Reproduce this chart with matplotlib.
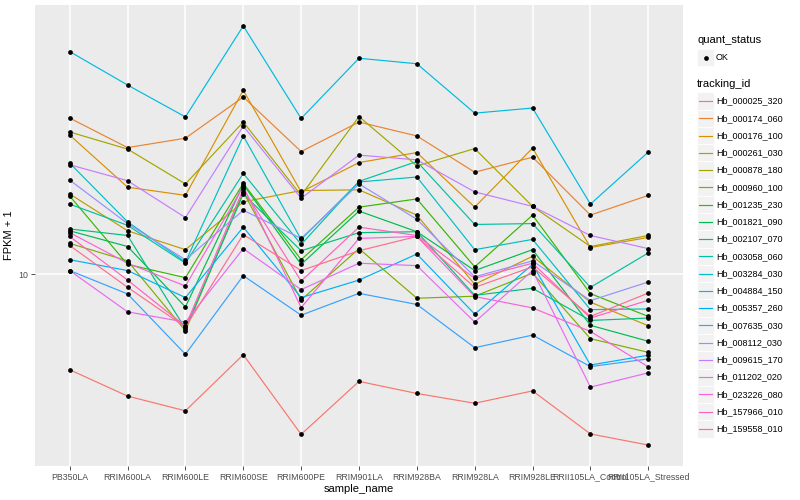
import numpy as np
import matplotlib.pyplot as plt
from matplotlib.patches import Rectangle
from matplotlib.lines import Line2D
from matplotlib.ticker import NullLocator

plt.rcParams['font.family'] = ['Liberation Sans', 'DejaVu Sans']

# x categories
samples = ['PB350LA', 'RRIM600LA', 'RRIM600LE', 'RRIM600SE', 'RRIM600PE',
           'RRIM901LA', 'RRIM928BA', 'RRIM928LA', 'RRIM928LE',
           'RRII105LA_Control', 'RRII105LA_Stressed']

tracking_ids = ['Hb_000025_320', 'Hb_000174_060', 'Hb_000176_100', 'Hb_000261_030',
                'Hb_000878_180', 'Hb_000960_100', 'Hb_001235_230', 'Hb_001821_090',
                'Hb_002107_070', 'Hb_003058_060', 'Hb_003284_030', 'Hb_004884_150',
                'Hb_005357_260', 'Hb_007635_030', 'Hb_008112_030', 'Hb_009615_170',
                'Hb_011202_020', 'Hb_023226_080', 'Hb_157966_010', 'Hb_159558_010']

# FPKM + 1 per gene, in sample order
hb_000025_320 = [4.79, 3.91, 3.49, 5.38, 2.91, 4.38, 3.99, 3.70, 4.07, 2.92, 2.68]
hb_000174_060 = [33.4, 26.6, 28.6, 39.3, 25.8, 32.4, 29.1, 22.0, 24.7, 15.8, 18.4]
hb_000176_100 = [29.3, 19.6, 18.4, 41.4, 18.9, 23.7, 25.6, 16.8, 26.5, 12.3, 13.3]
hb_000261_030 = [18.6, 14.0, 12.1, 17.5, 19.1, 19.2, 15.8, 9.26, 11.5, 8.07, 6.73]
hb_000878_180 = [30.0, 26.3, 20.1, 32.4, 18.4, 33.8, 23.1, 26.4, 16.9, 12.4, 13.5]
hb_000960_100 = [12.7, 11.1, 6.47, 18.9, 8.21, 12.2, 8.32, 8.45, 10.1, 6.09, 5.48]
hb_001235_230 = [18.3, 10.8, 9.75, 20.2, 11.2, 16.8, 17.9, 10.6, 15.8, 8.62, 7.23]
hb_001821_090 = [14.0, 12.4, 7.78, 20.0, 10.8, 16.3, 13.9, 10.3, 12.1, 6.75, 5.97]
hb_002107_070 = [14.2, 13.5, 6.57, 18.6, 12.0, 13.8, 13.9, 8.51, 8.98, 7.01, 7.14]
hb_003058_060 = [17.2, 14.6, 10.9, 21.8, 12.6, 20.5, 23.9, 14.7, 14.8, 9.05, 11.8]
hb_003284_030 = [23.6, 15.0, 11.0, 29.1, 13.1, 20.4, 21.2, 12.1, 13.1, 7.62, 7.66]
hb_004884_150 = [55.8, 43.1, 33.7, 68.0, 33.3, 53.0, 50.8, 34.7, 36.1, 17.2, 25.7]
hb_005357_260 = [11.2, 10.3, 8.36, 14.4, 8.36, 9.57, 11.7, 7.36, 10.8, 4.97, 5.36]
hb_007635_030 = [10.3, 8.60, 5.40, 9.90, 7.30, 8.64, 7.93, 5.68, 6.26, 4.91, 5.21]
hb_008112_030 = [20.7, 14.8, 11.2, 16.4, 13.2, 20.1, 15.3, 9.82, 11.1, 8.17, 9.43]
hb_009615_170 = [23.3, 20.6, 15.5, 31.4, 18.0, 25.1, 24.2, 18.9, 16.9, 13.5, 12.2]
hb_011202_020 = [10.3, 7.49, 6.92, 12.2, 8.89, 10.9, 10.7, 6.92, 10.3, 4.19, 4.68]
hb_023226_080 = [13.8, 10.9, 9.14, 19.7, 7.74, 13.2, 13.4, 8.43, 7.72, 6.44, 4.90]
hb_157966_010 = [13.4, 9.57, 6.70, 19.3, 9.50, 14.4, 13.5, 9.70, 10.9, 7.14, 8.19]
hb_159558_010 = [12.5, 9.05, 6.66, 13.6, 10.3, 12.0, 13.4, 9.05, 10.6, 7.23, 8.66]

series = [hb_000025_320, hb_000174_060, hb_000176_100, hb_000261_030, hb_000878_180,
          hb_000960_100, hb_001235_230, hb_001821_090, hb_002107_070, hb_003058_060,
          hb_003284_030, hb_004884_150, hb_005357_260, hb_007635_030, hb_008112_030,
          hb_009615_170, hb_011202_020, hb_023226_080, hb_157966_010, hb_159558_010]

# ggplot2 default hue palette, 20 colours
colors = ['#F8766D', '#EA8331', '#D89000', '#C09B00', '#A3A500', '#7CAE00', '#39B600',
          '#00BB4E', '#00BF7D', '#00C1A3', '#00BFC4', '#00BAE0', '#00B0F6', '#35A2FF',
          '#9590FF', '#C77CFF', '#E76BF3', '#FA62DB', '#FF62BC', '#FF6C91']

W, H = 800, 500
fig = plt.figure(figsize=(8, 5), dpi=100)
ax = fig.add_axes([35 / W, 34 / H, 648 / W, 461 / H])
ax.set_facecolor('#EBEBEB')
for s in ax.spines.values():
    s.set_visible(False)

x = np.arange(len(samples))
for vals, col in zip(series, colors):
    ax.plot(x, vals, color=col, lw=0.85, zorder=2)
for vals in series:
    ax.plot(x, vals, 'o', color='black', ms=2.4, zorder=3)

ax.set_yscale('log')
logs = np.log10(np.concatenate(series))
lo, hi = logs.min(), logs.max()
pad = (hi - lo) * 0.05
ax.set_ylim(10 ** (lo - pad), 10 ** (hi + pad))
ax.set_xlim(-0.6, len(samples) - 1 + 0.6)
ax.set_yticks([10])
ax.set_yticklabels(['10'])
ax.yaxis.set_minor_locator(NullLocator())
ax.set_xticks(x)
ax.set_xticklabels(samples)
ax.grid(True, color='white', lw=1.1, zorder=0)
ax.set_axisbelow(True)
ax.tick_params(length=2.75, width=0.6, color='#333333', labelsize=6.3,
               labelcolor='#4D4D4D', pad=2)
ax.set_xlabel('sample_name', fontsize=8, labelpad=2)
ax.set_ylabel('FPKM + 1', fontsize=8, labelpad=3)

# legends, built by hand in ggplot style
def fx(px):
    return px / W

def fy(py):
    return 1 - py / H

fig.text(fx(697), fy(40), 'quant_status', fontsize=8, va='center')
fig.add_artist(Rectangle((fx(697), fy(66)), 17 / W, 17 / H, transform=fig.transFigure,
                         facecolor='#F2F2F2', edgecolor='white', lw=0.5))
fig.add_artist(Line2D([fx(705.5)], [fy(57.5)], marker='o', color='black', ms=2.4,
                      transform=fig.transFigure))
fig.text(fx(716), fy(57.5), 'OK', fontsize=6.5, va='center')

fig.text(fx(697), fy(84), 'tracking_id', fontsize=8, va='center')
step = 17.26
for i, (name, col) in enumerate(zip(tracking_ids, colors)):
    cy = 101 + step * i
    fig.add_artist(Rectangle((fx(697), fy(cy + step / 2)), 17 / W, step / H,
                             transform=fig.transFigure, facecolor='#F2F2F2',
                             edgecolor='white', lw=0.6))
    fig.add_artist(Line2D([fx(699), fx(712)], [fy(cy), fy(cy)], color=col, lw=0.85,
                          transform=fig.transFigure))
    fig.text(fx(716), fy(cy), name, fontsize=6.5, va='center')

fig.savefig('out.png', dpi=100)
